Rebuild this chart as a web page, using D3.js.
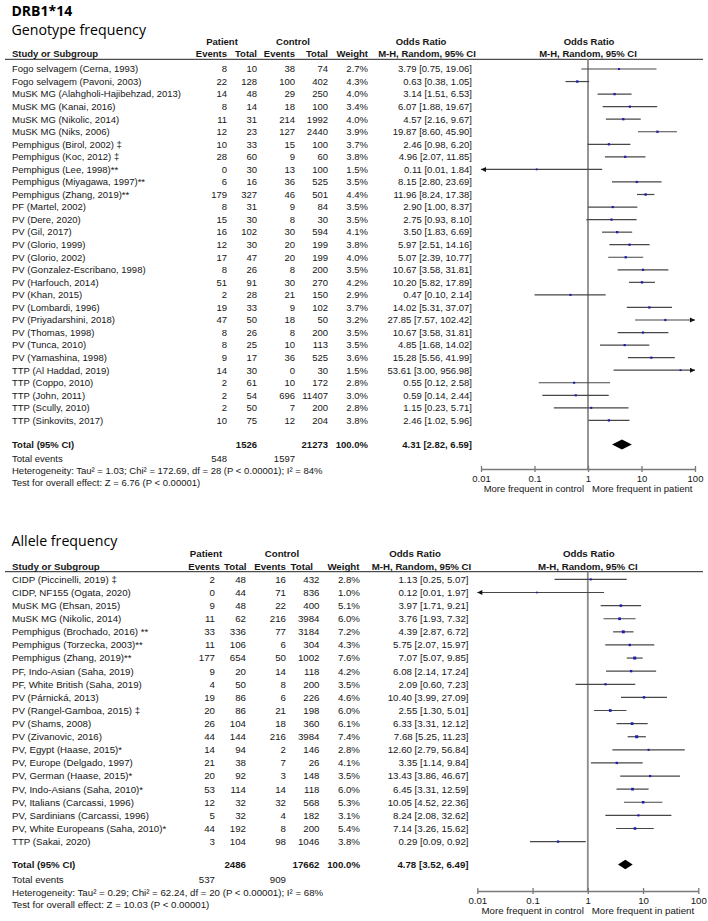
<!DOCTYPE html>
<html><head><meta charset="utf-8">
<script src="https://cdn.jsdelivr.net/npm/d3@7"></script>
<style>body{margin:0;background:#fff}svg{display:block}</style>
</head><body><svg id="c" width="708" height="921"></svg>
<script>
// ---------- DATA: Genotype frequency ----------
const genoStudies = ["Fogo selvagem (Cerna, 1993)","Fogo selvagem (Pavoni, 2003)","MuSK MG (Alahgholi-Hajibehzad, 2013)","MuSK MG (Kanai, 2016)","MuSK MG (Nikolic, 2014)","MuSK MG (Niks, 2006)","Pemphigus (Birol, 2002) \u2021","Pemphigus (Koc, 2012) \u2021","Pemphigus (Lee, 1998)**","Pemphigus (Miyagawa, 1997)**","Pemphigus (Zhang, 2019)**","PF (Martel, 2002)","PV (Dere, 2020)","PV (Gil, 2017)","PV (Glorio, 1999)","PV (Glorio, 2002)","PV (Gonzalez-Escribano, 1998)","PV (Harfouch, 2014)","PV (Khan, 2015)","PV (Lombardi, 1996)","PV (Priyadarshini, 2018)","PV (Thomas, 1998)","PV (Tunca, 2010)","PV (Yamashina, 1998)","TTP (Al Haddad, 2019)","TTP (Coppo, 2010)","TTP (John, 2011)","TTP (Scully, 2010)","TTP (Sinkovits, 2017)"];
const genoPatEvents = [8,22,14,8,11,12,10,28,0,6,179,8,15,16,12,17,8,51,2,19,47,8,8,9,14,2,2,2,10];
const genoPatTotal  = [10,128,48,14,31,23,33,60,30,16,327,31,30,102,30,47,26,91,28,33,50,26,25,17,30,61,54,50,75];
const genoCtrlEvents= [38,100,29,18,214,127,15,9,13,36,46,9,8,30,20,20,8,30,21,9,18,8,10,36,0,10,696,7,12];
const genoCtrlTotal = [74,402,250,100,1992,2440,100,60,100,525,501,84,30,594,199,199,200,270,150,102,50,200,113,525,30,172,11407,200,204];
const genoWeight    = [2.7,4.3,4.0,3.4,4.0,3.9,3.7,3.8,1.5,3.5,4.4,3.5,3.5,4.1,3.8,4.0,3.5,4.2,2.9,3.7,3.2,3.5,3.5,3.6,1.5,2.8,3.0,2.8,3.8];
const genoOR        = [3.79,0.63,3.14,6.07,4.57,19.87,2.46,4.96,0.11,8.15,11.96,2.90,2.75,3.50,5.97,5.07,10.67,10.20,0.47,14.02,27.85,10.67,4.85,15.28,53.61,0.55,0.59,1.15,2.46];
const genoLow       = [0.75,0.38,1.51,1.88,2.16,8.60,0.98,2.07,0.01,2.80,8.24,1.00,0.93,1.83,2.51,2.39,3.58,5.82,0.10,5.31,7.57,3.58,1.68,5.56,3.00,0.12,0.14,0.23,1.02];
const genoHigh      = [19.06,1.05,6.53,19.67,9.67,45.90,6.20,11.85,1.84,23.69,17.38,8.37,8.10,6.69,14.16,10.77,31.81,17.89,2.14,37.07,102.42,31.81,14.02,41.99,956.98,2.58,2.44,5.71,5.96];
// totals: patEvents, patTotal, ctrlEvents, ctrlTotal, OR, low, high
const genoTotals = [548,1526,1597,21273,4.31,2.82,6.59];
const genoHet  = "Heterogeneity: Tau\u00B2 = 1.03; Chi\u00B2 = 172.69, df = 28 (P < 0.00001); I\u00B2 = 84%";
const genoTest = "Test for overall effect: Z = 6.76 (P < 0.00001)";

// ---------- DATA: Allele frequency ----------
const alleleStudies = ["CIDP (Piccinelli, 2019) \u2021","CIDP, NF155 (Ogata, 2020)","MuSK MG (Ehsan, 2015)","MuSK MG (Nikolic, 2014)","Pemphigus (Brochado, 2016) **","Pemphigus (Torzecka, 2003)**","Pemphigus (Zhang, 2019)**","PF, Indo-Asian (Saha, 2019)","PF, White British (Saha, 2019)","PV (P\u00E1rnick\u00E1, 2013)","PV (Rangel-Gamboa, 2015) \u2021","PV (Shams, 2008)","PV (Zivanovic, 2016)","PV, Egypt (Haase, 2015)*","PV, Europe (Delgado, 1997)","PV, German (Haase, 2015)*","PV, Indo-Asians (Saha, 2010)*","PV, Italians (Carcassi, 1996)","PV, Sardinians (Carcassi, 1996)","PV, White Europeans (Saha, 2010)*","TTP (Sakai, 2020)"];
const allelePatEvents = [2,0,9,11,33,11,177,9,4,19,20,26,44,14,21,20,53,12,5,44,3];
const allelePatTotal  = [48,44,48,62,336,106,654,20,50,86,86,104,144,94,38,92,114,32,32,192,104];
const alleleCtrlEvents= [16,71,22,216,77,6,50,14,8,6,21,18,216,2,7,3,14,32,4,8,98];
const alleleCtrlTotal = [432,836,400,3984,3184,304,1002,118,200,226,198,360,3984,146,26,148,118,568,182,200,1046];
const alleleWeight    = [2.8,1.0,5.1,6.0,7.2,4.3,7.6,4.2,3.5,4.6,6.0,6.1,7.4,2.8,4.1,3.5,6.0,5.3,3.1,5.4,3.8];
const alleleOR        = [1.13,0.12,3.97,3.76,4.39,5.75,7.07,6.08,2.09,10.40,2.55,6.33,7.68,12.60,3.35,13.43,6.45,10.05,8.24,7.14,0.29];
const alleleLow       = [0.25,0.01,1.71,1.93,2.87,2.07,5.07,2.14,0.60,3.99,1.30,3.31,5.25,2.79,1.14,3.86,3.31,4.52,2.08,3.26,0.09];
const alleleHigh      = [5.07,1.97,9.21,7.32,6.72,15.97,9.85,17.24,7.23,27.09,5.01,12.12,11.23,56.84,9.84,46.67,12.59,22.36,32.62,15.62,0.92];
const alleleTotals = [537,2486,909,17662,4.78,3.52,6.49];
const alleleHet  = "Heterogeneity: Tau\u00B2 = 0.29; Chi\u00B2 = 62.24, df = 20 (P < 0.00001); I\u00B2 = 68%";
const alleleTest = "Test for overall effect: Z = 10.03 (P < 0.00001)";

// ---------- axis ----------
const tickValues = [0.01,0.1,1,10,100];
const tickLabels = ["0.01","0.1","1","10","100"];
const leftLabel = "More frequent in control";
const rightLabel = "More frequent in patient";

const svg = d3.select("#c");
const FONT = "'Liberation Sans', Arial, sans-serif";
const TXT = "#161616";
const fmt2 = d3.format(".2f");
const ciText = (o,l,h) => `${fmt2(o)} [${fmt2(l)}, ${fmt2(h)}]`;

function panel(cfg, d) {
  const g = svg.append("g").attr("font-family", FONT).attr("fill", TXT).attr("font-size", cfg.fs);
  const n = d.studies.length;
  const y = d3.scaleLinear().domain([0, n - 1]).range([cfg.row0, cfg.row0 + (n - 1) * cfg.step]);
  const x = d3.scaleLog().domain([0.01, 100]).range(cfg.xr);

  // section title
  if (cfg.mainTitle) {
    svg.append("text").attr("x", 11.5).attr("y", 16).attr("font-family", "'Open Sans', sans-serif")
      .attr("font-weight", "bold").attr("font-size", 14).attr("fill", "#000").text(cfg.mainTitle);
  }
  svg.append("text").attr("x", 11.5).attr("y", cfg.titleY).attr("font-family", "'Open Sans', sans-serif")
    .attr("font-size", 14.2).attr("fill", "#000").text(cfg.title);

  // headers
  const hb = g.append("g").attr("font-weight", "bold");
  const T = (sel, xx, yy, s, anchor) => sel.append("text").attr("x", xx).attr("y", yy).attr("dy", "0.35em")
      .attr("text-anchor", anchor || "end").text(s);
  T(hb, cfg.hPat, cfg.h1, "Patient", "middle");
  T(hb, cfg.hCtl, cfg.h1, "Control", "middle");
  T(hb, cfg.hOR, cfg.h1, "Odds Ratio", "middle");
  T(hb, x(1) + 1, cfg.h1, "Odds Ratio", "middle");
  T(hb, 12, cfg.h2, "Study or Subgroup", "start");
  T(hb, cfg.hc.ev, cfg.h2, "Events");
  T(hb, cfg.hc.tot, cfg.h2, "Total");
  T(hb, cfg.hc.cev, cfg.h2, "Events");
  T(hb, cfg.hc.ctot, cfg.h2, "Total");
  T(hb, cfg.hc.w, cfg.h2, "Weight");
  T(hb, cfg.hMH, cfg.h2, "M-H, Random, 95% CI", "middle");
  T(hb, x(1), cfg.h2, "M-H, Random, 95% CI", "middle");

  g.append("line").attr("x1", 5).attr("x2", 703).attr("y1", cfg.lineY).attr("y2", cfg.lineY)
    .attr("stroke", "#222").attr("stroke-width", 1);

  // rows
  const rows = g.append("g");
  d.studies.forEach((s, i) => {
    const yy = y(i);
    T(rows, 12, yy, s, "start");
    T(rows, cfg.c.ev, yy, d.pe[i]);
    T(rows, cfg.c.tot, yy, d.pt[i]);
    T(rows, cfg.c.cev, yy, d.ce[i]);
    T(rows, cfg.c.ctot, yy, d.ct[i]);
    T(rows, cfg.c.w, yy, d.w[i].toFixed(1) + "%");
    T(rows, cfg.c.or, yy, ciText(d.or[i], d.lo[i], d.hi[i]));
  });

  // vertical line at 1
  g.append("line").attr("x1", x(1)).attr("x2", x(1)).attr("y1", cfg.lineY).attr("y2", cfg.axisY)
    .attr("stroke", "#8a8a8a").attr("stroke-width", 1.8);

  // CI lines + points
  const marks = g.append("g");
  d.studies.forEach((s, i) => {
    const yy = y(i);
    const lo = Math.max(d.lo[i], 0.01), hi = Math.min(d.hi[i], 100);
    marks.append("line").attr("x1", x(lo)).attr("x2", x(hi)).attr("y1", yy).attr("y2", yy)
      .attr("stroke", "#474747").attr("stroke-width", 1.2);
    if (d.lo[i] <= 0.01) {
      const ax = x(0.01);
      marks.append("path").attr("d", `M${ax},${yy}L${ax + 5},${yy - 2.5}L${ax + 5},${yy + 2.5}Z`).attr("fill", "#111");
    }
    if (d.hi[i] >= 100) {
      const ax = x(100);
      marks.append("path").attr("d", `M${ax},${yy}L${ax - 5},${yy - 2.5}L${ax - 5},${yy + 2.5}Z`).attr("fill", "#111");
    }
    const sz = 1.5 + d.w[i] * 0.2;
    marks.append("rect").attr("x", x(d.or[i]) - sz / 2).attr("y", yy - sz / 2).attr("width", sz).attr("height", sz)
      .attr("fill", "#1c1cb0");
  });

  // totals
  const t = d.totals;
  const tb = g.append("g").attr("font-weight", "bold");
  T(tb, 12, cfg.totY, "Total (95% CI)", "start");
  T(tb, cfg.c.tot, cfg.totY, t[1]);
  T(tb, cfg.c.ctot, cfg.totY, t[3]);
  T(tb, cfg.c.w, cfg.totY, "100.0%");
  T(tb, cfg.c.or, cfg.totY, ciText(t[4], t[5], t[6]));
  T(g, 12, cfg.teY, "Total events", "start");
  T(g, cfg.c.ev, cfg.teY, t[0]);
  T(g, cfg.c.cev, cfg.teY, t[2]);
  T(g, 12, cfg.hetY, d.het, "start");
  T(g, 12, cfg.testY, d.test, "start");

  // diamond
  const dy = cfg.dh / 2;
  g.append("path").attr("d", `M${x(t[5])},${cfg.totY}L${x(t[4])},${cfg.totY - dy}L${x(t[6])},${cfg.totY}L${x(t[4])},${cfg.totY + dy}Z`)
    .attr("fill", "#000");

  // axis
  const axis = d3.axisBottom(x).tickValues(tickValues).tickFormat((v, i) => tickLabels[i])
    .tickSizeInner(3).tickSizeOuter(0).tickPadding(3);
  const ag = g.append("g").attr("transform", `translate(0,${cfg.axisY})`).call(axis);
  ag.attr("font-family", FONT).attr("font-size", cfg.fs);
  ag.select(".domain").attr("stroke", "#7a7a7a").attr("stroke-width", 1.5);
  ag.selectAll(".tick line").attr("stroke", "#7a7a7a").attr("stroke-width", 1.3).attr("y1", -3);
  ag.selectAll(".tick text").attr("fill", TXT);
  T(g, x(1) - 4, cfg.freqY, leftLabel, "end");
  T(g, x(1) + 4, cfg.freqY, rightLabel, "start");
}

panel({
  mainTitle: "DRB1*14", title: "Genotype frequency", titleY: 34.5, fs: 9.5,
  h1: 41.7, h2: 54, lineY: 59.3, row0: 69, step: 12.55,
  hPat: 222, hCtl: 293, hOR: 421, hMH: 427,
  hc: {ev: 227, tot: 257, cev: 295, ctot: 328, w: 368},
  c: {ev: 227, tot: 257, cev: 295, ctot: 328, w: 368, or: 472},
  xr: [481, 695], axisY: 469, totY: 444.5, teY: 459, hetY: 471, testY: 482.7, freqY: 489, dh: 10
}, {studies: genoStudies, pe: genoPatEvents, pt: genoPatTotal, ce: genoCtrlEvents, ct: genoCtrlTotal,
    w: genoWeight, or: genoOR, lo: genoLow, hi: genoHigh, totals: genoTotals, het: genoHet, test: genoTest});

panel({
  title: "Allele frequency", titleY: 545.5, fs: 9.7,
  h1: 553.7, h2: 566.5, lineY: 571.7, row0: 579.4, step: 13.11,
  hPat: 206, hCtl: 282, hOR: 415, hMH: 421.5,
  hc: {ev: 220, tot: 246.5, cev: 286, ctot: 313, w: 359.5},
  c: {ev: 215, tot: 246, cev: 286, ctot: 319.5, w: 360, or: 468.5},
  xr: [477.3, 698.3], axisY: 891, totY: 864.5, teY: 880, hetY: 892.3, testY: 904.3, freqY: 910.7, dh: 9.5
}, {studies: alleleStudies, pe: allelePatEvents, pt: allelePatTotal, ce: alleleCtrlEvents, ct: alleleCtrlTotal,
    w: alleleWeight, or: alleleOR, lo: alleleLow, hi: alleleHigh, totals: alleleTotals, het: alleleHet, test: alleleTest});
</script></body></html>
